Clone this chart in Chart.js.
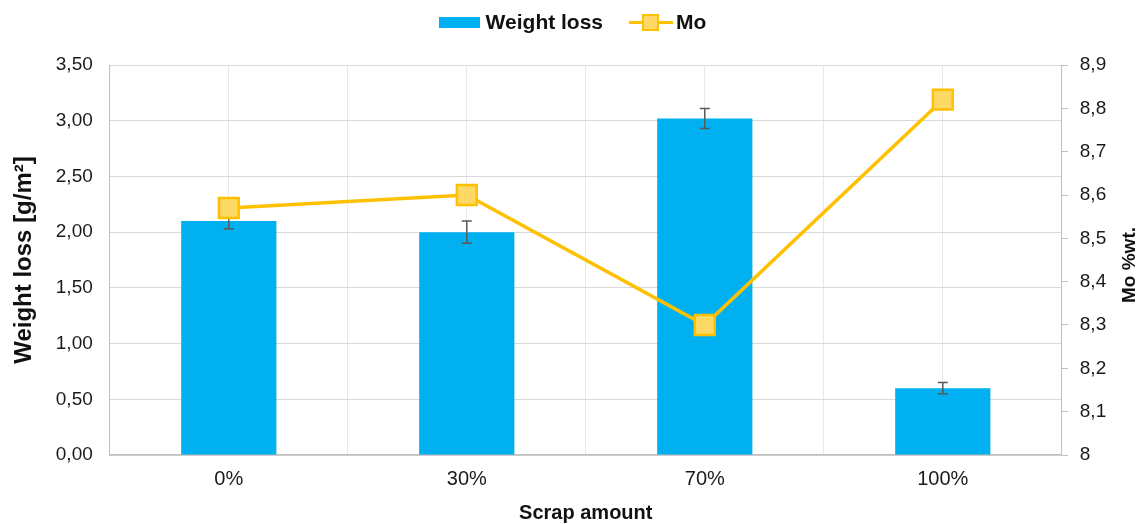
<!DOCTYPE html>
<html>
<head>
<meta charset="utf-8">
<script src="https://cdn.jsdelivr.net/npm/chart.js@4/dist/chart.umd.min.js"></script>
<style>
  html,body{margin:0;padding:0;background:#fff;}
  #wrap{position:relative;width:1145px;height:524px;}
  #legend{position:absolute;top:10px;left:0;width:1145px;display:flex;justify-content:center;align-items:center;
    font:bold 21px "Liberation Sans",Arial,sans-serif;color:#111;}
  .lg{display:flex;align-items:center;margin:0 13px;}
  .box{width:41px;height:11px;background:#00B0F0;margin-right:6px;}
  .ln{position:relative;width:44px;height:3px;background:#FFC000;margin-right:3px;}
  .ln i{position:absolute;left:13px;top:-7px;width:13px;height:13px;background:#FFD966;border:2px solid #FFC000;box-sizing:content-box;}
</style>
</head>
<body>
<div id="wrap">
  <canvas id="c" width="1145" height="524"></canvas>
  <div id="legend">
    <div class="lg"><span class="box"></span>Weight loss</div>
    <div class="lg"><span class="ln"><i></i></span>Mo</div>
  </div>
</div>
<script>
// data
const categories = ["0%","30%","70%","100%"];
const weightLoss = [2.10, 2.00, 3.02, 0.60];
const weightErr  = [0.07, 0.10, 0.09, 0.05];
const moContent  = [8.57, 8.60, 8.30, 8.82];

const BLUE="#00B0F0", GOLD="#FFC000", GOLD_FILL="#FFD966";
const FONT="'Liberation Sans', Arial, sans-serif";
const comma = (v,d)=>v.toFixed(d).replace(".",",");

// error bars on the bar dataset, drawn through the y scale (before the line so it stays on top)
function drawErrorBars(chart){
  const meta=chart.getDatasetMeta(1), y=chart.scales.y, ctx=chart.ctx;
  ctx.save(); ctx.strokeStyle="#595959"; ctx.lineWidth=1.5;
  meta.data.forEach((bar,i)=>{
    const v=weightLoss[i], e=weightErr[i];
    const t=y.getPixelForValue(v+e), b=y.getPixelForValue(v-e);
    ctx.beginPath();
    ctx.moveTo(bar.x,t); ctx.lineTo(bar.x,b);
    ctx.moveTo(bar.x-5,t); ctx.lineTo(bar.x+5,t);
    ctx.moveTo(bar.x-5,b); ctx.lineTo(bar.x+5,b);
    ctx.stroke();
  });
  ctx.restore();
}
const errorBars = {
  id:"errorBars",
  beforeDatasetDraw(chart,args){ if(args.index===0) drawErrorBars(chart); }
};
// right axis title reads bottom-to-top
const rightTitle = {
  id:"rightTitle",
  afterDraw(chart){
    const s=chart.scales.y1, ctx=chart.ctx;
    ctx.save();
    ctx.translate(s.right-11,(chart.chartArea.top+chart.chartArea.bottom)/2+5);
    ctx.rotate(-Math.PI/2);
    ctx.font="bold 19px "+FONT; ctx.fillStyle="#111";
    ctx.textAlign="center"; ctx.textBaseline="middle";
    ctx.fillText("Mo %wt.",0,0);
    ctx.restore();
  }
};

new Chart(document.getElementById("c"),{
  data:{
    labels:categories,
    datasets:[
      {type:"line",label:"Mo",data:moContent,yAxisID:"y1",order:0,
       borderColor:GOLD,borderWidth:3.5,backgroundColor:GOLD_FILL,
       pointStyle:"rect",pointRadius:14,pointHoverRadius:14,
       pointBackgroundColor:GOLD_FILL,pointBorderColor:GOLD,pointBorderWidth:2.5,tension:0},
      {type:"bar",label:"Weight loss",data:weightLoss,yAxisID:"y",order:1,
       backgroundColor:BLUE,categoryPercentage:1,barPercentage:0.4}
    ]
  },
  options:{
    responsive:false,animation:false,
    layout:{padding:{top:65,left:7,right:4,bottom:0}},
    plugins:{legend:{display:false},tooltip:{enabled:false}},
    scales:{
      x:{type:"category",offset:true,
         grid:{display:false,drawTicks:false},
         border:{color:"#bfbfbf",width:1.5},
         ticks:{font:{family:FONT,size:20},color:"#1a1a1a",padding:12},
         title:{display:true,text:"Scrap amount",font:{family:FONT,size:20,weight:"bold",lineHeight:1},color:"#111",padding:{top:0,bottom:1}}},
      xg:{type:"linear",position:"bottom",min:-0.5,max:3.5,
          ticks:{display:false,stepSize:0.5},
          grid:{color:"#e8e8e8",drawTicks:false},border:{display:false}},
      y:{position:"left",min:0,max:3.5,
         ticks:{stepSize:0.5,font:{family:FONT,size:19},color:"#1a1a1a",padding:17,callback:v=>comma(v,2)},
         grid:{color:"#d9d9d9",drawTicks:false},
         border:{color:"#bfbfbf"},
         title:{display:true,text:"Weight loss [g/m²]",font:{family:FONT,size:24,weight:"bold"},color:"#111",padding:{top:3,bottom:0}}},
      y1:{position:"right",min:8,max:8.9,
          ticks:{stepSize:0.1,font:{family:FONT,size:19},color:"#1a1a1a",padding:12,
                 callback:v=>Number(v.toFixed(1)).toString().replace(".",",")},
          grid:{drawOnChartArea:false,color:"#bfbfbf",tickLength:6},
          border:{color:"#bfbfbf"},
          title:{display:true,text:"Mo %wt.",color:"rgba(0,0,0,0)",font:{family:FONT,size:19,weight:"bold"},padding:{top:0,bottom:0}}}
    }
  },
  plugins:[errorBars,rightTitle]
});
</script>
</body>
</html>
